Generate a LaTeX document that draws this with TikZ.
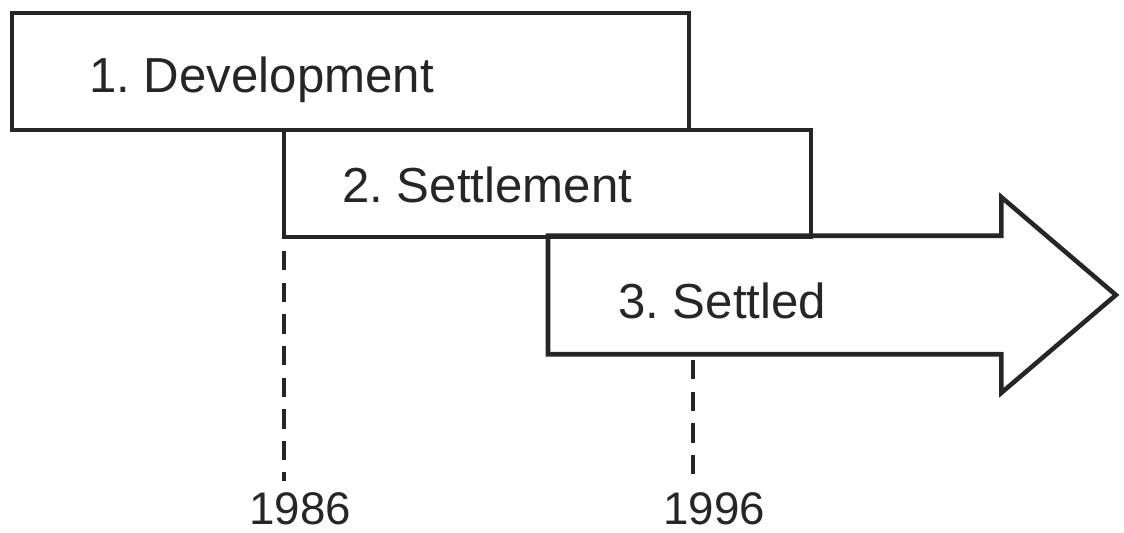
\documentclass[tikz,border=0pt]{standalone}
\usepackage{fontspec}
\setmainfont{Liberation Sans}
\usepackage{tikz}
\usetikzlibrary{shapes.arrows, positioning, calc}

\begin{document}
\begin{tikzpicture}[x=0.02cm, y=-0.02cm,
            line width=2.6pt,
            stagebox/.style={draw=black!85, inner sep=0pt, outer sep=0pt},
            stagetext/.style={anchor=base west, inner sep=0pt, text=black!85,
                font=\fontsize{28}{30}\selectfont},
            yeartext/.style={anchor=base west, inner sep=0pt, text=black!85,
                font=\fontsize{26}{28}\selectfont},
            yearline/.style={draw=black!85, dash pattern=on 11pt off 7pt}]
            \useasboundingbox (0,0) rectangle (1124,533);

            % 1. Development
            \node[stagebox, minimum width=13.54cm, minimum height=2.34cm] (dev) at (350.5,71.5) {};
            \node[stagetext] (devtext) at (87,93) {1.\ Development};

            % 2. Settlement
            \node[stagebox, minimum width=10.54cm, minimum height=2.14cm] (settlement) at (547.5,183.5) {};
            \node[stagetext] (settlementtext) at (340,203) {2.\ Settlement};

            % 3. Settled
            \node[stagebox, single arrow, inner xsep=0pt, inner ysep=1.14cm,
                minimum height=11.36cm, single arrow head extend=0.77cm,
                single arrow tip angle=81, anchor=tail] (settled) at (548,295) {};
            \node[stagetext] (settledtext) at (616,318) {3.\ Settled};

            % Jahre
            \node[yeartext] (y1986) at (247,524) {1986};
            \node[yeartext] (y1996) at (661,524) {1996};
            \coordinate (c1996) at (693,353);

            % gestrichelte Linien
            \draw[yearline, shorten <=8pt, shorten >=5pt] (settlement.south west) -- (settlement.south west |- y1986.north);
            \draw[yearline, shorten <=4pt, shorten >=5pt] (c1996) -- (c1996 |- y1996.north);
        \end{tikzpicture}
\end{document}
